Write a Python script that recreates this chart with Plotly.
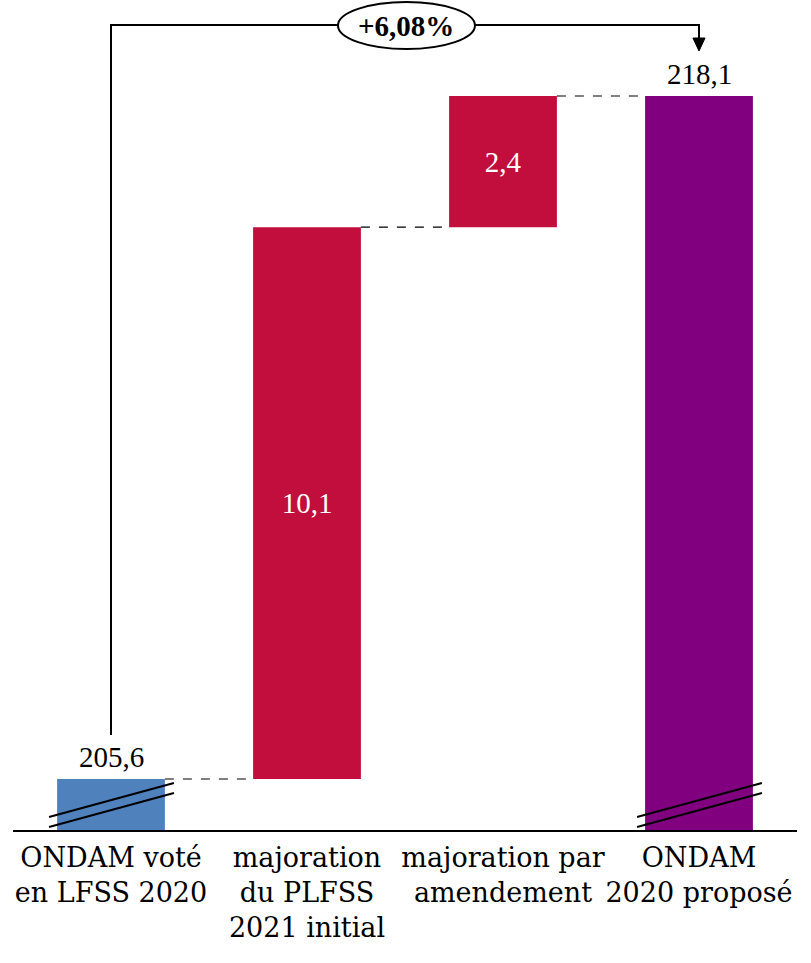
import plotly.graph_objects as go

categories = ["ONDAM voté<br>en LFSS 2020", "majoration<br>du PLFSS<br>2021 initial",
              "majoration par<br>amendement", "ONDAM<br>2020 proposé"]
values = [205.6, 10.1, 2.4, 218.1]
measures = ["absolute", "relative", "relative", "total"]
growth_label = "+6,08%"

colors = ["#4F81BD", "#C20E3D", "#C20E3D", "#800080"]
FONT = "DejaVu Serif"
NUMFONT = "Liberation Serif"

# bases for a waterfall
bases, tops = [], []
running = 0
for v, m in zip(values, measures):
    if m == "relative":
        bases.append(running); running += v
    else:
        bases.append(0); running = v
    tops.append(running)
heights = [t - b for t, b in zip(tops, bases)]

def fmt(v):
    return f"{v:.1f}".replace(".", ",")

x = list(range(len(categories)))
inside_text = [fmt(v) if m == "relative" else "" for v, m in zip(values, measures)]

ymin, ymax = 204.667, 219.857
bw = 0.55

fig = go.Figure(go.Bar(
    x=x, y=heights, base=bases, width=bw,
    marker=dict(color=colors, line=dict(width=0)),
    text=inside_text, textposition="inside", insidetextanchor="middle",
    textfont=dict(family=NUMFONT, size=29, color="white"),
    hoverinfo="skip",
))

shapes = []
# connectors
for i in range(len(x) - 1):
    shapes.append(dict(type="line", xref="x", yref="y",
                       x0=x[i] + bw / 2, x1=x[i + 1] - bw / 2, y0=tops[i], y1=tops[i],
                       line=dict(color="black", width=1.2, dash="dash")))
# bracket
y_top = 1 - 25 / 830
shapes.append(dict(type="path", xref="x", yref="paper",
                   path=f"M 0 {1-735/830} L 0 {y_top} L 3 {y_top} L 3 {1-40/830}",
                   line=dict(color="black", width=2)))
# arrow head
shapes.append(dict(type="path", xref="x", yref="paper",
                   path=f"M {3-0.031} {1-38/830} L {3+0.031} {1-38/830} L 3 {1-51/830} Z",
                   fillcolor="black", line=dict(color="black", width=1)))
# ellipse
shapes.append(dict(type="circle", xref="x", yref="paper",
                   x0=1.158, x1=1.857, y0=1 - 49 / 830, y1=1 - 2 / 830,
                   fillcolor="white", line=dict(color="black", width=2)))
# axis break marks
for xc in (0, 3):
    for off in (0, 10):
        shapes.append(dict(type="line", xref="x", yref="paper",
                           x0=xc - 0.316, x1=xc + 0.321,
                           y0=1 - (817 + off) / 830, y1=1 - (783 + off) / 830,
                           line=dict(color="black", width=2)))

annotations = [
    dict(x=1.507, y=1 - 26 / 830, xref="x", yref="paper", text=f"<b>{growth_label}</b>",
         showarrow=False, xanchor="center", yanchor="middle",
         font=dict(family=NUMFONT, size=29, color="black")),
]
for i, m in enumerate(measures):
    if m != "relative":
        annotations.append(dict(x=x[i], y=tops[i], xref="x", yref="y", text=fmt(values[i]),
                                showarrow=False, yanchor="middle", yshift=22,
                                font=dict(family=NUMFONT, size=29, color="black")))

fig.update_layout(
    width=811, height=963,
    margin=dict(l=13, r=14, t=0, b=133),
    paper_bgcolor="white", plot_bgcolor="white",
    showlegend=False,
    shapes=shapes, annotations=annotations,
    xaxis=dict(range=[-0.5, 3.5], tickvals=x, ticktext=categories,
               tickangle=0, automargin=False, ticklabelstandoff=3,
               showline=True, linecolor="black", linewidth=1.5,
               showgrid=False, zeroline=False, ticks="",
               tickfont=dict(family=FONT, size=27, color="black")),
    yaxis=dict(range=[ymin, ymax], visible=False, showgrid=False, zeroline=False,
               automargin=False),
)

fig.write_html("out.html", config={"displayModeBar": False},
               post_script="document.body.style.margin='0';")
